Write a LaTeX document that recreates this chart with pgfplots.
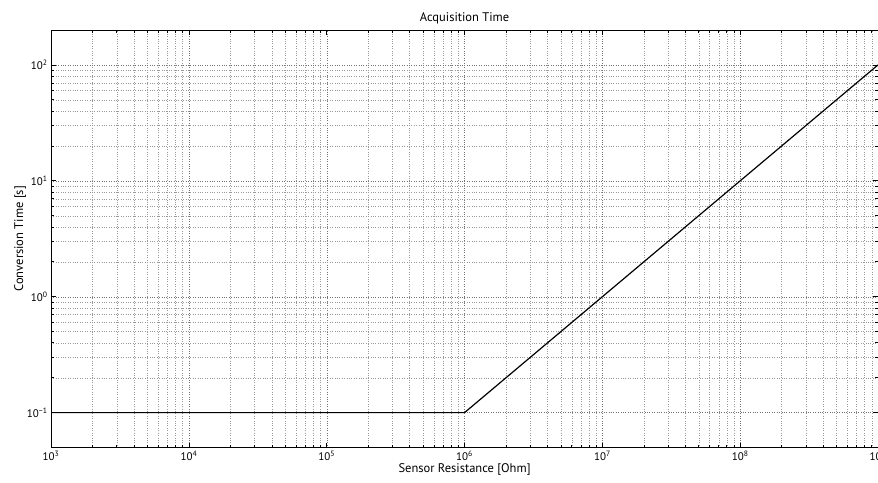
\documentclass[border=0pt]{standalone}
\usepackage{fontspec}
\setmainfont{PT Sans}
\usepackage{pgfplots}
\pgfplotsset{compat=1.18}

\begin{document}
\begin{tikzpicture}
\begin{loglogaxis}[
    name=ax,
    scale only axis,
    width=826pt, height=417pt,
    xmin=1e3, xmax=1e9,
    ymin=0.05, ymax=200,
    title={Acquisition Time},
    title style={font=\fontsize{12.5}{13}\selectfont, yshift=-4pt},
    xlabel={Sensor Resistance [Ohm]},
    ylabel={Conversion Time [s]},
    label style={font=\fontsize{12.5}{13}\selectfont},
    xlabel style={yshift=4pt},
    ylabel style={yshift=-6pt},
    tick label style={font=\fontsize{11}{12}\selectfont},
    xtick={1e3,1e4,1e5,1e6,1e7,1e8,1e9},
    xticklabels={10\textsuperscript{3},10\textsuperscript{4},10\textsuperscript{5},10\textsuperscript{6},10\textsuperscript{7},10\textsuperscript{8},10\textsuperscript{9}},
    ytick={0.1,1,10,100},
    yticklabels={10\textsuperscript{−1},10\textsuperscript{0},10\textsuperscript{1},10\textsuperscript{2}},
    grid=both,
    major grid style={dotted, black!55},
    minor grid style={dotted, black!40},
    tick align=inside,
    major tick length=5pt,
    minor tick length=3pt,
    tick style={black, line width=0.7pt},
    axis line style={line width=1pt},
    every axis plot/.append style={line width=1.2pt},
]
\addplot[black] coordinates {
(1e3,0.1) (1e6,0.1) (1e9,100)
};
\end{loglogaxis}
\pgfresetboundingbox
\path[use as bounding box] ([xshift=-51pt,yshift=-35pt]ax.south west) rectangle ([yshift=30pt]ax.north east);
\end{tikzpicture}
\end{document}
